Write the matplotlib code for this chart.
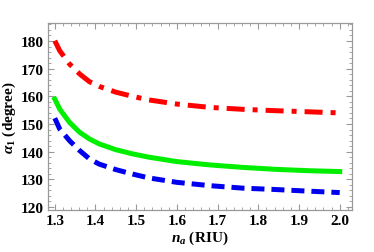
import numpy as np
import matplotlib.pyplot as plt
from matplotlib.ticker import MultipleLocator

# refractive index of analyte (RIU)
n_a = [1.300, 1.312, 1.336, 1.361, 1.385, 1.409, 1.450, 1.491, 1.531,
       1.600, 1.681, 1.762, 1.843, 1.925, 2.000]

# alpha_1 (degree)
alpha_red = [180.1, 176.5, 171.7, 168.1, 165.3, 163.6, 161.5, 160.0, 158.7,
             157.2, 156.0, 155.3, 154.8, 154.4, 154.0]
alpha_green = [159.0, 155.4, 150.6, 147.0, 144.6, 142.8, 140.7, 139.2, 138.0,
               136.4, 135.2, 134.3, 133.6, 133.1, 132.8]
alpha_blue = [152.1, 148.2, 144.0, 140.4, 137.4, 135.5, 133.5, 131.9, 130.5,
              128.9, 127.7, 126.8, 126.3, 125.7, 125.2]

x_ticks = [1.3, 1.4, 1.5, 1.6, 1.7, 1.8, 1.9, 2.0]
y_ticks = [120, 130, 140, 150, 160, 170, 180]

plt.rcParams['font.family'] = ['Liberation Serif', 'DejaVu Serif']
plt.rcParams['mathtext.fontset'] = 'custom'
plt.rcParams['mathtext.rm'] = 'Liberation Serif:bold'
plt.rcParams['mathtext.it'] = 'Liberation Serif:italic:bold'
plt.rcParams['mathtext.bf'] = 'Liberation Serif:bold'

fig = plt.figure(figsize=(3.74, 2.53), dpi=100)
ax = fig.add_axes([0.128, 0.166, 0.813, 0.739])

ax.plot(n_a, alpha_red, color='#ff0000', lw=3.6, dashes=(3.6, 1.6, 1.0, 1.6))
ax.plot(n_a, alpha_green, color='#00ee00', lw=3.6)
ax.plot(n_a, alpha_blue, color='#0000ee', lw=3.6, dashes=(2.6, 1.4))

ax.set_xlim(1.283, 2.03)
ax.set_ylim(118.9, 186.5)
ax.set_xticks(x_ticks)
ax.set_yticks(y_ticks)
ax.set_xticklabels([f"{v:.1f}" for v in x_ticks])
ax.xaxis.set_minor_locator(MultipleLocator(0.02))
ax.yaxis.set_minor_locator(MultipleLocator(2))
ax.tick_params(which='both', direction='in', top=True, right=True, color='#999999')
ax.tick_params(which='major', length=4, width=0.8, labelsize=11, pad=3)
ax.tick_params(which='minor', length=2, width=0.6)
for lbl in ax.get_xticklabels() + ax.get_yticklabels():
    lbl.set_fontweight('bold')
for s in ax.spines.values():
    s.set_color('#999999')
    s.set_linewidth(0.9)

ax.set_xlabel(r"$n_a$ (RIU)", fontsize=11, fontweight='bold', labelpad=1)
ax.set_ylabel(r"$\alpha_1$ (degree)", fontsize=11, fontweight='bold', labelpad=2)

fig.savefig("out.png", dpi=100)
